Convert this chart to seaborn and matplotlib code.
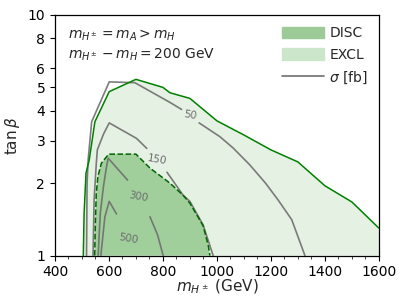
import numpy as np
import pandas as pd
import seaborn as sns
import matplotlib
matplotlib.use("Agg")
import matplotlib.pyplot as plt
from matplotlib.patches import Patch
from matplotlib.lines import Line2D
from matplotlib.ticker import FixedLocator, NullLocator, MultipleLocator, FixedFormatter

# --- data ---
# exclusion boundary (solid green)
excl_m = [505, 508, 515, 527, 548, 601, 700, 800, 826, 900, 1000, 1100, 1200, 1300, 1400, 1500, 1600]
excl_tb = [1.0, 1.5, 2.2, 2.5, 3.6, 4.8, 5.4, 5.0, 4.75, 4.5, 3.63, 3.17, 2.75, 2.45, 1.95, 1.67, 1.3]

# discovery boundary (dashed dark green)
disc_m = [547, 550, 553, 559, 572, 599, 700, 752, 826, 875, 900, 949, 968, 974]
disc_tb = [1.0, 1.4, 1.81, 2.13, 2.42, 2.64, 2.64, 2.31, 2.0, 1.78, 1.65, 1.33, 1.1, 1.0]

# cross-section contours, split where the inline labels sit
sig50_a_m = [517, 519, 523, 536, 601, 696, 826, 869]
sig50_a_tb = [1.0, 2.0, 2.5, 3.6, 5.27, 5.23, 4.33, 4.05]
sig50_b_m = [934, 1011, 1060, 1122, 1180, 1227, 1277, 1326]
sig50_b_tb = [3.56, 3.12, 2.8, 2.38, 2.0, 1.70, 1.41, 1.0]

sig150_a_m = [541, 545, 553, 557, 580, 601, 702, 740]
sig150_a_tb = [1.0, 1.7, 2.4, 2.75, 3.2, 3.56, 3.07, 2.79]
sig150_b_m = [815, 875, 900, 949, 986]
sig150_b_tb = [2.22, 1.78, 1.68, 1.34, 1.0]

sig300_a_m = [560, 568, 580, 590, 597, 669]
sig300_a_tb = [1.0, 1.5, 1.95, 2.3, 2.54, 2.06]
sig300_b_m = [752, 780, 801]
sig300_b_tb = [1.45, 1.22, 1.0]

sig500_a_m = [570, 585, 601, 628]
sig500_a_tb = [1.0, 1.45, 1.68, 1.49]

# label text and where it sits
lab_text = ["50", "150", "300", "500"]
lab_m = [900, 777, 709, 672]
lab_tb = [3.84, 2.50, 1.76, 1.17]

segments = [
    (sig50_a_m, sig50_a_tb), (sig50_b_m, sig50_b_tb),
    (sig150_a_m, sig150_a_tb), (sig150_b_m, sig150_b_tb),
    (sig300_a_m, sig300_a_tb), (sig300_b_m, sig300_b_tb),
    (sig500_a_m, sig500_a_tb),
]
rows = []
for i, (ms, tbs) in enumerate(segments):
    for j, (m, t) in enumerate(zip(ms, tbs)):
        rows.append({"m": m, "tb": t, "seg": i, "order": j})
sig_df = pd.DataFrame(rows)

excl_df = pd.DataFrame({"m": excl_m, "tb": excl_tb})
disc_df = pd.DataFrame({"m": disc_m, "tb": disc_tb})

# --- plot ---
sns.set_style("ticks")
plt.rcParams["font.family"] = ["DejaVu Sans"]
plt.rcParams["mathtext.fontset"] = "dejavusans"

fig = plt.figure(figsize=(4.07, 3.05), dpi=100)
ax = fig.add_axes([0.135, 0.162, 0.796, 0.789])

excl_fill = "#e5f1e3"
disc_fill = "#a0cf9c"

ax.fill(excl_m + [1600], excl_tb + [1.0], color=excl_fill, lw=0, zorder=1)
ax.fill(disc_m, disc_tb, color=disc_fill, lw=0, zorder=2)

sns.lineplot(data=sig_df, x="m", y="tb", units="seg", estimator=None, sort=False,
             color="#6e6e6e", lw=1.2, alpha=0.9, ax=ax, legend=False, zorder=3)
sns.lineplot(data=excl_df, x="m", y="tb", sort=False, estimator=None,
             color="green", lw=1.1, ax=ax, zorder=4)
sns.lineplot(data=disc_df, x="m", y="tb", sort=False, estimator=None,
             color="darkgreen", lw=1.1, ls="--", ax=ax, zorder=4)

for t, m, tb in zip(lab_text, lab_m, lab_tb):
    ax.text(m, tb, t, rotation=-10, ha="center", va="center",
            fontsize=7.5, color="#6e6e6e", zorder=5)

ax.set_yscale("log")
ax.set_xlim(400, 1600)
ax.set_ylim(1, 10)
yt = [1, 2, 3, 4, 5, 6, 8, 10]
ax.yaxis.set_major_locator(FixedLocator(yt))
ax.yaxis.set_major_formatter(FixedFormatter([str(v) for v in yt]))
ax.yaxis.set_minor_locator(NullLocator())
ax.xaxis.set_major_locator(MultipleLocator(200))
ax.xaxis.set_minor_locator(MultipleLocator(50))
ax.tick_params(labelsize=10, colors="black")
for s in ax.spines.values():
    s.set_color("black")
    s.set_linewidth(0.9)

ax.set_xlabel(r"$m_{H^\pm}$ (GeV)", fontsize=11, labelpad=-1)
ax.set_ylabel(r"$\tan\beta$", fontsize=11, labelpad=4)

ax.text(0.04, 0.915, r"$m_{H^\pm} = m_A > m_H$", transform=ax.transAxes,
        fontsize=10, va="center")
ax.text(0.04, 0.833, r"$m_{H^\pm} - m_H = 200$ GeV", transform=ax.transAxes,
        fontsize=10, va="center")

handles = [Patch(color="#9ccb98", label="DISC"),
           Patch(color="#cce6cc", label="EXCL"),
           Line2D([], [], color="#6e6e6e", lw=1.2, label=r"$\sigma$ [fb]")]
ax.legend(handles=handles, loc="upper right", frameon=False, fontsize=10,
          handlelength=3.0, handleheight=0.9, handletextpad=0.4,
          labelspacing=0.55, borderaxespad=0.4)

fig.savefig("out.png", dpi=100)
